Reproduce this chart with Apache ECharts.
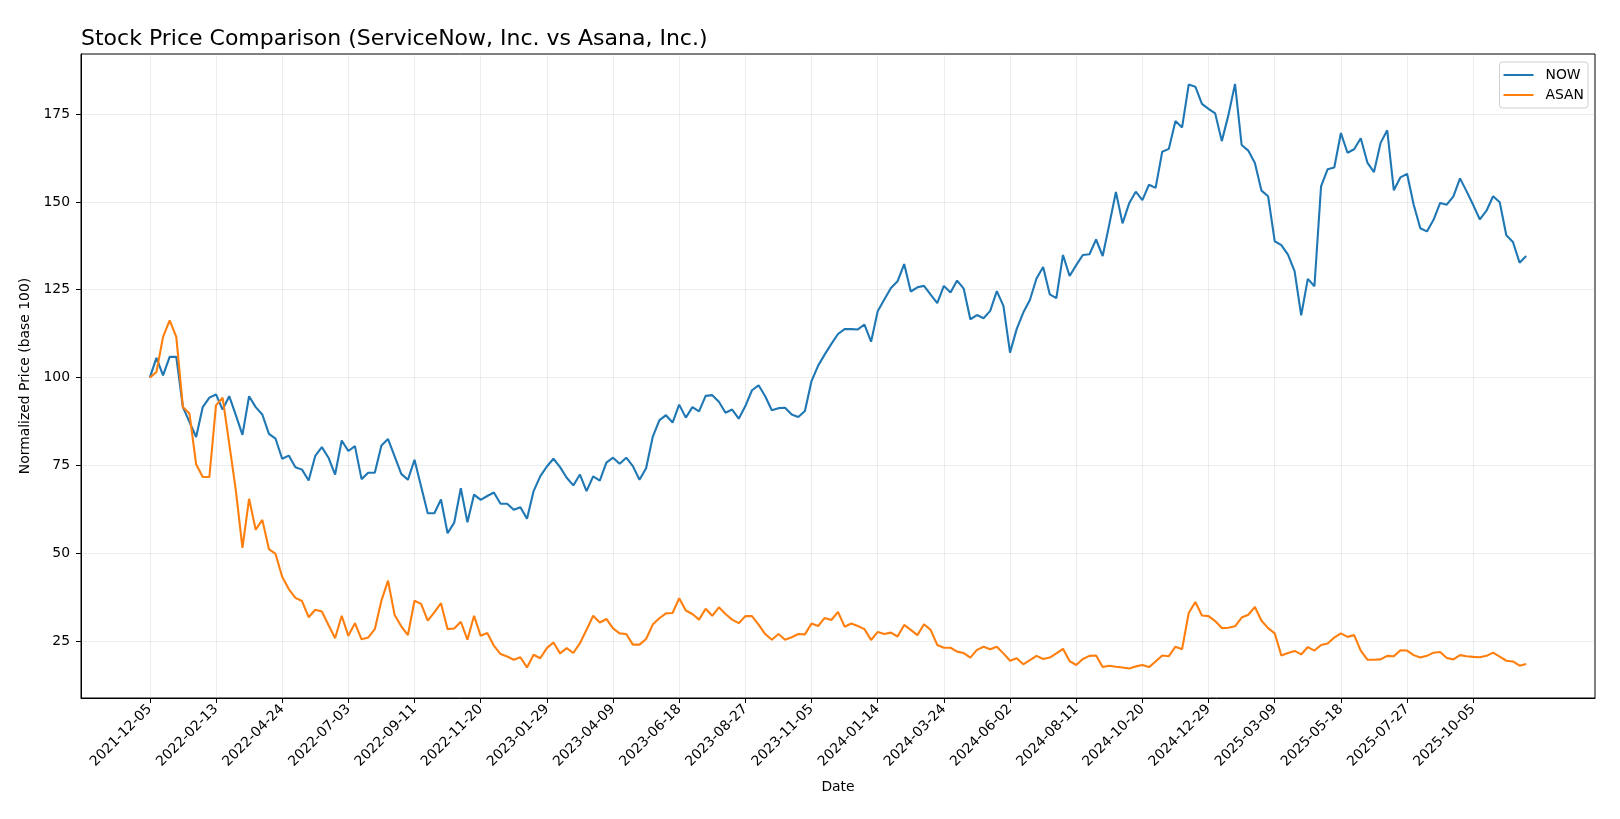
<!DOCTYPE html>
<html>
<head>
<meta charset="utf-8">
<title>Stock Price Comparison</title>
<script src="https://cdn.jsdelivr.net/npm/echarts@6/dist/echarts.min.js"></script>
<style>
  html, body { margin: 0; padding: 0; background: #fff; }
  #chart { width: 1620px; height: 819px; }
</style>
</head>
<body>
<div id="chart"></div>
<script>
// weekly closes, normalized to 100 at 2021-12-05 (one value per week)
const nowPrices = [
  100, 105.6, 100.6, 105.9, 105.9, 91.6, 87.3, 83.1, 91.6, 94.3,
  95.2, 90.9, 94.7, 89.3, 83.7, 94.7, 91.6, 89.5, 84.0, 82.6,
  76.9, 77.8, 74.5, 73.8, 70.7, 77.7, 80.2, 77.2, 72.4, 82.1,
  79.1, 80.5, 71.1, 72.9, 72.9, 80.7, 82.5, 77.6, 72.6, 70.9,
  76.6, 69.0, 61.4, 61.4, 65.3, 55.7, 58.7, 68.5, 58.8, 66.7,
  65.2, 66.3, 67.3, 64.1, 64.1, 62.4, 63.1, 59.8, 67.7, 71.9,
  74.7, 76.9, 74.5, 71.5, 69.3, 72.4, 67.7, 71.9, 70.7, 75.8,
  77.2, 75.5, 77.2, 74.8, 70.9, 74.2, 83.1, 87.8, 89.3, 87.2,
  92.3, 88.6, 91.6, 90.4, 94.8, 95.0, 93.1, 90.0, 90.9, 88.3,
  91.9, 96.4, 97.8, 94.7, 90.7, 91.3, 91.4, 89.5, 88.8, 90.5,
  99.0, 103.4, 106.6, 109.6, 112.4, 113.8, 113.8, 113.7, 115.1, 110.2,
  118.9, 122.2, 125.5, 127.4, 132.3, 124.5, 125.7, 126.1, 123.6, 121.2,
  126.1, 124.2, 127.6, 125.3, 116.6, 117.8, 116.9, 119.0, 124.6, 120.4,
  107.1, 113.8, 118.5, 122.1, 128.2, 131.5, 123.7, 122.6, 134.9, 128.9,
  132.0, 134.9, 135.1, 139.3, 134.6, 143.6, 152.8, 143.9, 149.6, 152.9,
  150.5, 154.9, 154.0, 164.3, 165.1, 173.0, 171.2, 183.4, 182.8, 177.9,
  176.5, 175.2, 167.3, 174.7, 183.6, 166.2, 164.6, 161.1, 153.2, 151.6,
  138.8, 137.7, 135.0, 130.3, 117.7, 128.1, 126.0, 154.4, 159.3, 159.8,
  169.6, 164.0, 165.0, 168.1, 161.2, 158.5, 166.8, 170.4, 153.3, 157.0,
  158.0, 149.2, 142.5, 141.6, 144.9, 149.7, 149.2, 151.6, 156.7, 153.0,
  149.1, 145.0, 147.5, 151.6, 149.9, 140.5, 138.6, 132.7, 134.6
];

const asanPrices = [
  100, 101.6, 111.6, 116.3, 111.6, 91.6, 89.7, 75.3, 71.7, 71.7,
  92.1, 94.3, 81.2, 67.9, 51.5, 65.5, 56.7, 59.5, 51.2, 49.8,
  43.3, 39.8, 37.3, 36.4, 31.8, 33.9, 33.4, 29.6, 25.8, 32.2,
  26.5, 30.1, 25.5, 26.0, 28.4, 36.5, 42.2, 32.4, 29.2, 26.7,
  36.5, 35.6, 30.8, 33.2, 35.8, 28.4, 28.6, 30.5, 25.4, 32.2,
  26.5, 27.3, 23.7, 21.3, 20.6, 19.7, 20.4, 17.5, 21.1, 20.1,
  23.0, 24.6, 21.5, 23.0, 21.6, 24.4, 28.2, 32.2, 30.3, 31.3,
  28.6, 27.2, 27.0, 24.0, 24.0, 25.6, 29.7, 31.5, 32.9, 33.0,
  37.2, 33.7, 32.7, 31.1, 34.2, 32.2, 34.6, 32.7, 31.1, 30.1,
  32.1, 32.1, 29.7, 27.0, 25.4, 27.0, 25.4, 26.1, 27.0, 26.9,
  30.0, 29.3, 31.6, 31.0, 33.3, 29.1, 30.0, 29.3, 28.4, 25.3,
  27.6, 27.0, 27.4, 26.3, 29.6, 28.2, 26.7, 29.8, 28.2, 23.9,
  23.1, 23.1, 22.0, 21.6, 20.3, 22.5, 23.4, 22.7, 23.4, 21.5,
  19.4, 20.1, 18.4, 19.6, 20.8, 19.9, 20.3, 21.5, 22.8, 19.3,
  18.2, 19.9, 20.8, 20.9, 17.6, 18.0, 17.7, 17.5, 17.2, 17.8,
  18.2, 17.6, 19.2, 20.9, 20.7, 23.4, 22.7, 33.0, 36.1, 32.3,
  32.1, 30.7, 28.7, 28.8, 29.2, 31.7, 32.5, 34.7, 30.8, 28.7,
  27.2, 20.9, 21.6, 22.2, 21.2, 23.3, 22.3, 23.9, 24.3, 26.0,
  27.2, 26.2, 26.7, 22.3, 19.7, 19.7, 19.8, 20.8, 20.7, 22.4,
  22.3, 21.0, 20.3, 20.8, 21.7, 21.9, 20.2, 19.8, 21.0, 20.7,
  20.5, 20.4, 20.8, 21.7, 20.6, 19.4, 19.2, 18.0, 18.5
];

// x tick labels, one every 10 weeks
const dateTicks = [
  '2021-12-05', '2022-02-13', '2022-04-24', '2022-07-03', '2022-09-11',
  '2022-11-20', '2023-01-29', '2023-04-09', '2023-06-18', '2023-08-27',
  '2023-11-05', '2024-01-14', '2024-03-24', '2024-06-02', '2024-08-11',
  '2024-10-20', '2024-12-29', '2025-03-09', '2025-05-18', '2025-07-27',
  '2025-10-05'
];
const priceTicks = [25, 50, 75, 100, 125, 150, 175];

const FONT = 'DejaVu Sans';
const weekTicks = dateTicks.map((d, i) => i * 10);

function toPairs(arr) {
    return arr.map((v, i) => [i, v]);
}

function createChart(element, option) {
    let myChart = echarts.init(element, null, { renderer: 'canvas' });
    myChart.setOption(option);
    return myChart;
}

const gridLine = { show: true, lineStyle: { color: 'rgba(176,176,176,0.3)', width: 0.8 } };

createChart(document.getElementById('chart'), {
    animation: false,
    backgroundColor: '#fff',
    title: {
        text: 'Stock Price Comparison (ServiceNow, Inc. vs Asana, Inc.)',
        left: 76,
        top: 23,
        textStyle: { fontFamily: FONT, fontSize: 22, fontWeight: 'normal', color: '#000' }
    },
    legend: {
        orient: 'vertical',
        right: 32,
        top: 62,
        data: ['NOW', 'ASAN'],
        icon: 'rect',
        itemWidth: 30,
        itemHeight: 2,
        itemGap: 6,
        padding: [6, 4, 6, 4],
        backgroundColor: '#fff',
        borderColor: '#d0d0d0',
        borderWidth: 1,
        borderRadius: 3,
        textStyle: { fontFamily: FONT, fontSize: 13.9, color: '#000', padding: [0, 0, 0, 7], lineHeight: 14 }
    },
    grid: {
        left: 81,
        right: 25,
        top: 54,
        bottom: 121,
        show: true,
        borderColor: '#000',
        borderWidth: 1,
        containLabel: false
    },
    xAxis: {
        type: 'value',
        min: -10.4,
        max: 218.4,
        name: 'Date',
        nameLocation: 'middle',
        nameGap: 82,
        nameTextStyle: { fontFamily: FONT, fontSize: 13.9, color: '#000' },
        axisLine: { show: true, onZero: false, lineStyle: { color: '#000', width: 1 } },
        axisTick: { show: true, length: 5, customValues: weekTicks, lineStyle: { color: '#000' } },
        axisLabel: {
            customValues: weekTicks,
            rotate: 45,
            margin: 9,
            fontFamily: FONT,
            fontSize: 13.9,
            color: '#000',
            formatter: v => dateTicks[Math.round(v / 10)] || ''
        },
        splitLine: gridLine
    },
    yAxis: {
        type: 'value',
        min: 8.8,
        max: 192.1,
        name: 'Normalized Price (base 100)',
        nameLocation: 'middle',
        nameRotate: 90,
        nameGap: 43,
        nameTextStyle: { fontFamily: FONT, fontSize: 13.9, color: '#000' },
        axisLine: { show: true, onZero: false, lineStyle: { color: '#000', width: 1 } },
        axisTick: { show: true, length: 5, customValues: priceTicks, lineStyle: { color: '#000' } },
        axisLabel: {
            customValues: priceTicks,
            margin: 11,
            fontFamily: FONT,
            fontSize: 13.9,
            color: '#000'
        },
        splitLine: gridLine
    },
    series: [
        {
            name: 'NOW',
            type: 'line',
            data: toPairs(nowPrices),
            showSymbol: false,
            color: '#1f77b4',
            lineStyle: { width: 2.1, color: '#1f77b4' }
        },
        {
            name: 'ASAN',
            type: 'line',
            data: toPairs(asanPrices),
            showSymbol: false,
            color: '#ff7f0e',
            lineStyle: { width: 2.1, color: '#ff7f0e' }
        }
    ]
});
</script>
</body>
</html>
